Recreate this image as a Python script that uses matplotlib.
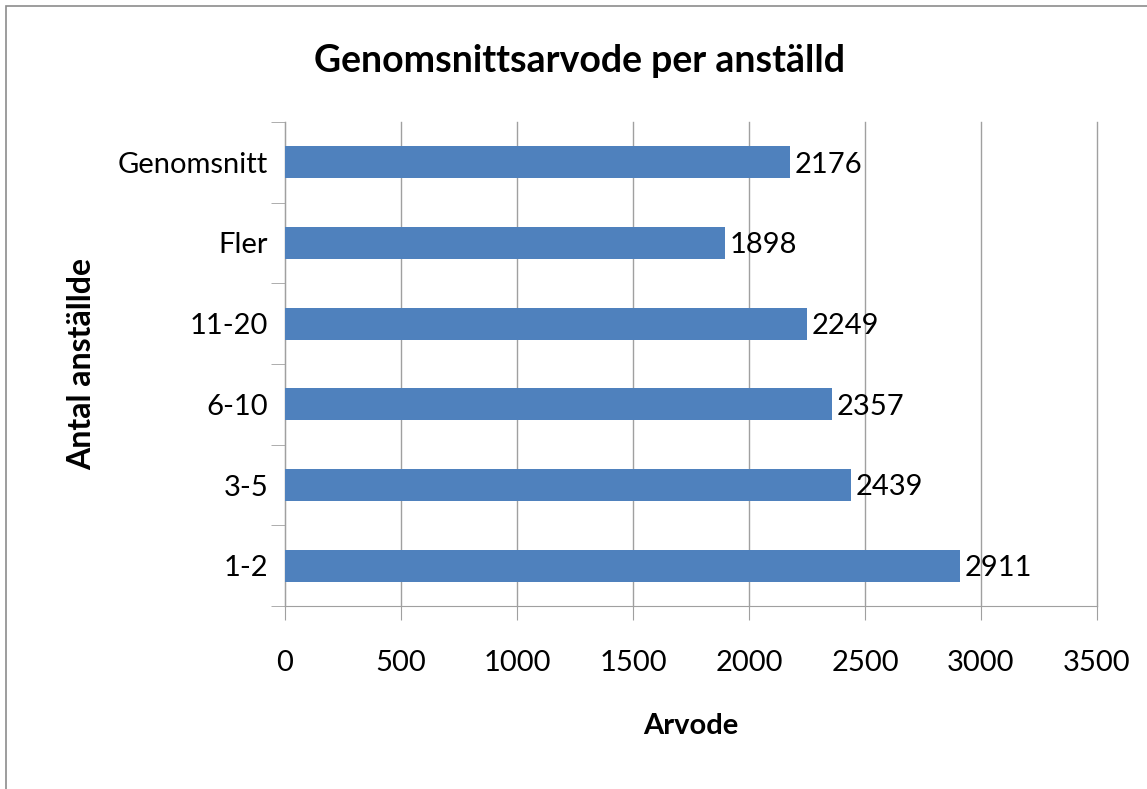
import matplotlib.pyplot as plt
from matplotlib.patches import Rectangle

# Data
categories = ['1-2', '3-5', '6-10', '11-20', 'Fler', 'Genomsnitt']
arvode = [2911, 2439, 2357, 2249, 1898, 2176]
x_ticks = [0, 500, 1000, 1500, 2000, 2500, 3000, 3500]

plt.rcParams['font.family'] = ['Lato', 'DejaVu Sans']

fig = plt.figure(figsize=(11.47, 7.89), dpi=100)
ax = fig.add_axes([0.2485, 0.2319, 0.7079, 0.6135])

# Outer chart border
fig.patches.append(Rectangle((6 / 1147, -0.1), 1.2, 1 - 6 / 789 + 0.1,
                             transform=fig.transFigure, fill=False,
                             edgecolor='#8c8c8c', linewidth=1.2))

pos = range(len(categories))
ax.barh(pos, arvode, height=0.4, color='#4F81BD', zorder=3)
for i, v in zip(pos, arvode):
    ax.text(v + 20, i - 0.03, str(v), va='center', ha='left', fontsize=21, zorder=4)

ax.set_xlim(0, 3500)
ax.set_ylim(-0.5, len(categories) - 0.5)
ax.set_xticks(x_ticks)
ax.set_xticklabels([str(t) for t in x_ticks], fontsize=21)
ax.set_yticks(pos)
ax.set_yticklabels(categories, fontsize=21)
ax.tick_params(axis='y', length=0, pad=12)
ax.tick_params(axis='x', length=10, color='#a0a0a0', pad=22)

# category boundary ticks on the y axis
ax.set_yticks([p - 0.5 for p in range(len(categories) + 1)], minor=True)
ax.tick_params(axis='y', which='minor', length=10, color='#a0a0a0')

ax.grid(axis='x', color='#a0a0a0', linewidth=1, zorder=0, clip_on=False)
for s in ['top', 'right']:
    ax.spines[s].set_visible(False)
for s in ['left', 'bottom']:
    ax.spines[s].set_color('#a0a0a0')

ax.set_title('Genomsnittsarvode per anställd', fontsize=27, fontweight='bold', pad=36,
             x=0.363)
ax.set_xlabel('Arvode', fontsize=21, fontweight='bold', labelpad=26)
ax.set_ylabel('Antal anställde', fontsize=23, fontweight='bold', labelpad=16)

fig.savefig('out.png', dpi=100)
